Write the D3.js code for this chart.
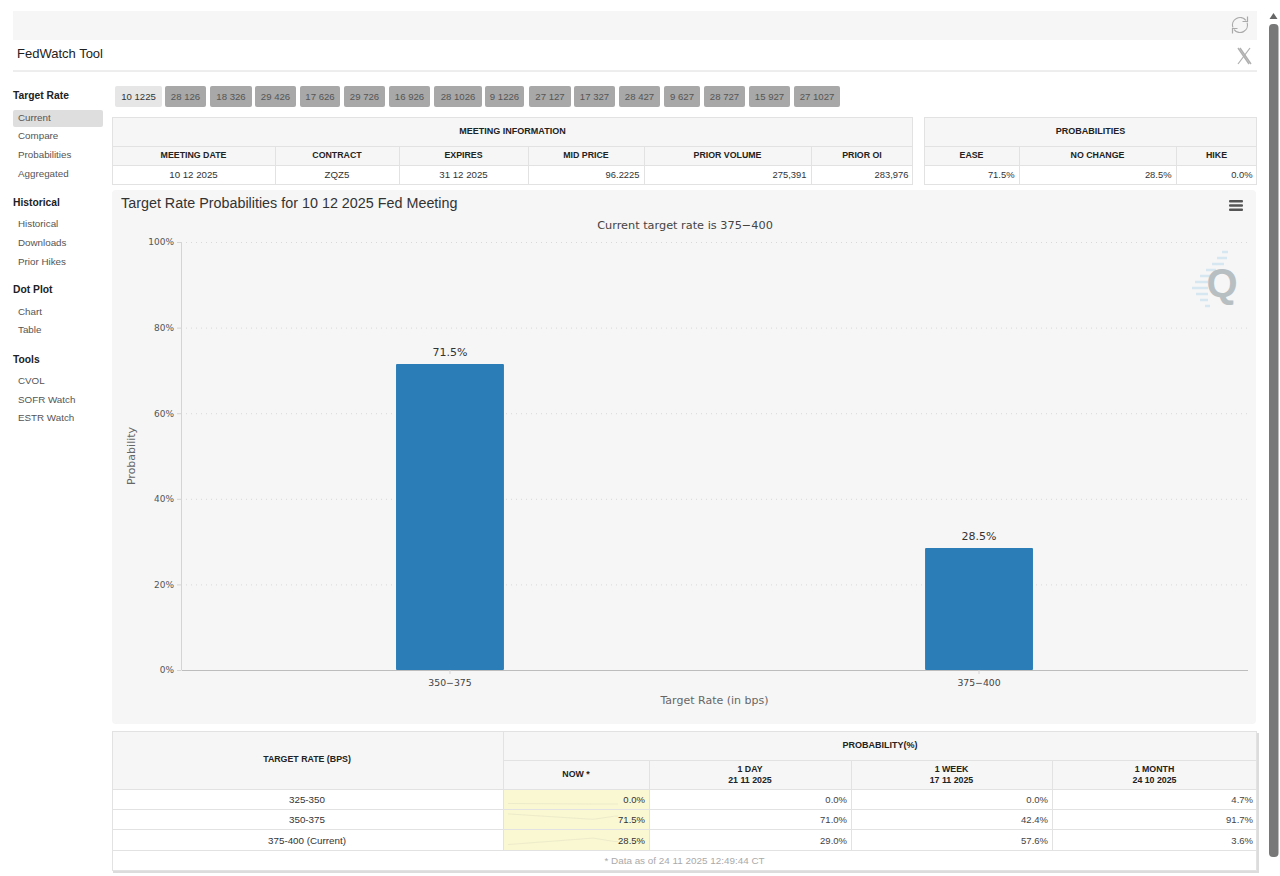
<!DOCTYPE html>
<html>
<head>
<meta charset="utf-8">
<title>FedWatch Tool</title>
<script src="https://cdn.jsdelivr.net/npm/d3@7"></script>
<style>
  html, body { margin: 0; padding: 0; background: #fff; overflow: hidden; }
  svg { display: block; }
  text { font-family: "Liberation Sans", Arial, sans-serif; }
  .hc text, text.hc { font-family: "DejaVu Sans", sans-serif; }
</style>
</head>
<body>
<div id="root"></div>
<script>
// ---- data
const meetings = ['10 1225','28 126','18 326','29 426','17 626','29 726','16 926','28 1026','9 1226','27 127','17 327','28 427','9 627','28 727','15 927','27 1027'];
const menuGroups = ['Target Rate','Historical','Dot Plot','Tools'];
const menuTargetRate = ['Current','Compare','Probabilities','Aggregated'];
const menuHistorical = ['Historical','Downloads','Prior Hikes'];
const menuDotPlot = ['Chart','Table'];
const menuTools = ['CVOL','SOFR Watch','ESTR Watch'];

const infoHead = ['MEETING DATE','CONTRACT','EXPIRES','MID PRICE','PRIOR VOLUME','PRIOR OI'];
const infoRow = ['10 12 2025','ZQZ5','31 12 2025','96.2225','275,391','283,976'];
const probHead = ['EASE','NO CHANGE','HIKE'];
const probRow = ['71.5%','28.5%','0.0%'];

const targetRates = ['350-375','375-400'];
const probabilities = [71.5, 28.5];
const yTicks = [0,20,40,60,80,100];

const histRates = ['325-350','350-375','375-400 (Current)'];
const histNow = [0.0, 71.5, 28.5];
const hist1Day = [0.0, 71.0, 29.0];
const hist1Week = [0.0, 42.4, 57.6];
const hist1Month = [4.7, 91.7, 3.6];
const histHead = [['NOW *'],['1 DAY','21 11 2025'],['1 WEEK','17 11 2025'],['1 MONTH','24 10 2025']];
const daysAgo = [31, 7, 1, 0];

// ---- layout
const W = 1280, H = 876;
const svg = d3.select('#root').append('svg').attr('width', W).attr('height', H);

const ink = '#333', soft = '#555', head = '#f6f6f6', rule = '#e2e2e2';

function txt(g, x, y, s, o) {
  o = o || {};
  return g.append('text').attr('x', x).attr('y', y).text(s)
    .attr('text-anchor', o.a || 'start')
    .attr('dominant-baseline', 'central')
    .attr('font-size', o.size || 9.5)
    .attr('font-weight', o.bold ? 700 : 400)
    .attr('fill', o.fill || ink);
}
function box(g, x0, y0, x1, y1, fill, stroke) {
  return g.append('rect').attr('x', x0).attr('y', y0)
    .attr('width', x1 - x0).attr('height', y1 - y0)
    .attr('fill', fill || 'none').attr('stroke', stroke || 'none');
}

// top bars
const topBar = svg.append('g');
box(topBar, 13, 11, 1257, 40, head);
txt(topBar, 17, 53.5, 'FedWatch Tool', {size: 13, fill: '#222'});
topBar.append('line').attr('x1', 13).attr('x2', 1257).attr('y1', 71).attr('y2', 71).attr('stroke', '#dcdcdc');

// refresh icon
const refresh = topBar.append('g').attr('transform', 'translate(1240,25)')
  .attr('fill', 'none').attr('stroke', '#aaa').attr('stroke-width', 1.2);
refresh.append('path').attr('d', d3.arc()({innerRadius: 7.5, outerRadius: 7.5, startAngle: -1.9, endAngle: 0.9}));
refresh.append('path').attr('d', d3.arc()({innerRadius: 7.5, outerRadius: 7.5, startAngle: 1.25, endAngle: 4.05}));
refresh.append('path').attr('d', 'M7.5,-8.5 L7.5,-3.5 L2.5,-3.5');
refresh.append('path').attr('d', 'M-7.5,8.5 L-7.5,3.5 L-2.5,3.5');
// X icon
const xIcon = topBar.append('g').attr('transform', 'translate(1244,56)').attr('fill', 'none').attr('stroke', '#b0b0b0');
xIcon.append('path').attr('d', 'M-6,-8 L5,8 M-4,-8 L7,8').attr('stroke-width', 1.4);
xIcon.append('path').attr('d', 'M6,-8 L-6,8').attr('stroke-width', 1.2);

// scrollbar
svg.append('path').attr('d', 'M1269.5,19 L1273.5,13 L1277.5,19 Z').attr('fill', '#666');
svg.append('rect').attr('x', 1269).attr('y', 24).attr('width', 9.5).attr('height', 833).attr('rx', 4).attr('fill', '#787878');

// side menu
const menu = svg.append('g');
box(menu, 13, 110, 103, 127, '#dedede').attr('rx', 2);
const menuLists = [menuTargetRate, menuHistorical, menuDotPlot, menuTools];
const menuHeadY = [95.5, 202.5, 289.5, 359.5];
const menuItemY = [[117.5,135.5,154.5,173.5],[223.5,242.5,261.5],[311.5,329.5],[380.5,399.5,417.5]];
menuGroups.forEach((g, i) => {
  txt(menu, 13, menuHeadY[i], g, {bold: true, fill: '#222', size: 10.3});
  menuLists[i].forEach((m, j) => txt(menu, 18, menuItemY[i][j], m, {fill: soft, size: 9.8}));
});

// meeting buttons
const btnEdges = [[115,162],[165,206],[210,252],[255,296],[300,340],[344,385],[389,430],[434,482],[485,524],[529,571],[574,615],[619,660],[664,700],[704,745],[749,790],[794,840]];
const btns = svg.append('g');
meetings.forEach((m, i) => {
  const [a, b] = btnEdges[i];
  box(btns, a, 86, b, 107, i === 0 ? '#e6e6e6' : '#a8a8a8').attr('rx', 2);
  txt(btns, (a + b) / 2, 96, m, {a: 'middle', size: 9.6, fill: i === 0 ? '#333' : '#555'});
});

// generic table with one title row, one head row, one value row
function infoTable(edges, title, heads, vals, alignVals) {
  const g = svg.append('g');
  const x0 = edges[0], x1 = edges[edges.length - 1];
  box(g, x0 + .5, 117.5, x1 - .5, 146, head);
  box(g, x0 + .5, 146, x1 - .5, 165, head);
  box(g, x0 + .5, 165, x1 - .5, 185, '#fff');
  box(g, x0 + .5, 117.5, x1 - .5, 184.5, null, rule);
  [146, 165].forEach(y => g.append('line').attr('x1', x0).attr('x2', x1).attr('y1', y + .5).attr('y2', y + .5).attr('stroke', rule));
  edges.slice(1, -1).forEach(x => g.append('line').attr('x1', x + .5).attr('x2', x + .5).attr('y1', 146).attr('y2', 185).attr('stroke', rule));
  txt(g, (x0 + x1) / 2, 130.5, title, {a: 'middle', bold: true, size: 9, fill: '#222'});
  heads.forEach((h, i) => txt(g, (edges[i] + edges[i + 1]) / 2, 155, h, {a: 'middle', bold: true, size: 8.8, fill: '#222'}));
  vals.forEach((v, i) => {
    if (alignVals[i] === 'm') txt(g, (edges[i] + edges[i + 1]) / 2, 174.5, v, {a: 'middle', size: 9.7});
    else txt(g, edges[i + 1] - 4.5, 174.5, v, {a: 'end', size: 9.4});
  });
}
infoTable([112,275,399,528,644,811,913], 'MEETING INFORMATION', infoHead, infoRow, ['m','m','m','e','e','e']);
infoTable([924,1019,1176,1257], 'PROBABILITIES', probHead, probRow, ['e','e','e']);

// chart panel
box(svg, 112, 190, 1256, 724, head).attr('rx', 4);
txt(svg, 121, 203, 'Target Rate Probabilities for 10 12 2025 Fed Meeting', {size: 14.35, fill: '#333'});
txt(svg, 685, 225, 'Current target rate is 375\u2212400', {a: 'middle', size: 11.3, fill: '#444'}).attr('class', 'hc');

// menu button
svg.append('g').selectAll('rect').data([0, 1, 2]).join('rect')
  .attr('x', 1229).attr('y', d => 200 + d * 4.3).attr('width', 14).attr('height', 2.4).attr('rx', 1).attr('fill', '#555');

// watermark
const wm = svg.append('g');
const wmDashes = [[1222,1228,252],[1217,1227,258],[1212,1224,264],[1206,1216,270],[1200,1212,276],[1195,1208,282],[1192,1208,288],[1196,1208,294],[1200,1208,300],[1205,1210,306]];
wmDashes.forEach(d => wm.append('line').attr('x1', d[0]).attr('x2', d[1]).attr('y1', d[2]).attr('y2', d[2])
  .attr('stroke', '#d6e7f1').attr('stroke-width', 2.5));
txt(wm, 1222, 283, 'Q', {a: 'middle', bold: true, size: 40, fill: '#b8bfc3'});

// plot
const plot = {left: 181, right: 1247, top: 242, bottom: 670};
const y = d3.scaleLinear().domain([0, 100]).range([plot.bottom, plot.top]);
const x = d3.scaleBand().domain(targetRates).range([plot.left + .5, plot.right + .5])
  .paddingInner(0.796).paddingOuter(0.4055);

// gridlines
svg.append('g').selectAll('line').data(yTicks.filter(d => d > 0)).join('line')
  .attr('x1', plot.left).attr('x2', plot.right)
  .attr('y1', d => y(d) + .5).attr('y2', d => y(d) + .5)
  .attr('stroke', '#d8d8d8').attr('stroke-dasharray', '1 4');

// bars
svg.append('g').selectAll('rect').data(targetRates).join('rect')
  .attr('x', d => x(d)).attr('width', x.bandwidth())
  .attr('y', (d, i) => y(probabilities[i]))
  .attr('height', (d, i) => y(0) - y(probabilities[i]))
  .attr('rx', 1).attr('fill', '#2b7db7');
svg.append('g').selectAll('text').data(targetRates).join('text')
  .attr('class', 'hc')
  .attr('x', d => x(d) + x.bandwidth() / 2)
  .attr('y', (d, i) => y(probabilities[i]) - 11.5)
  .attr('text-anchor', 'middle').attr('dominant-baseline', 'central')
  .attr('font-size', 11).attr('fill', '#333')
  .text((d, i) => probabilities[i].toFixed(1) + '%');

// axes
const axisL = svg.append('g').attr('class', 'hc').attr('transform', `translate(${plot.left},0)`)
  .call(d3.axisLeft(y).tickValues(yTicks).tickFormat(d => d + '%').tickSize(4).tickSizeOuter(0).tickPadding(3));
axisL.select('.domain').attr('stroke', '#d4d4d4');
axisL.selectAll('line').attr('stroke', '#d4d4d4');
axisL.selectAll('text').attr('font-size', 9).attr('fill', '#555').attr('font-family', '"DejaVu Sans", sans-serif');

const axisB = svg.append('g').attr('class', 'hc').attr('transform', `translate(0,${plot.bottom})`)
  .call(d3.axisBottom(x).tickFormat(d => d.replace('-', '\u2212')).tickSize(4).tickSizeOuter(0).tickPadding(5));
axisB.select('.domain').attr('stroke', '#bdbdbd');
axisB.selectAll('line').attr('stroke', '#d4d4d4');
axisB.selectAll('text').attr('font-size', 9.3).attr('fill', '#444').attr('font-family', '"DejaVu Sans", sans-serif');

txt(svg, 714.5, 700, 'Target Rate (in bps)', {a: 'middle', size: 11, fill: '#666'}).attr('class', 'hc');
txt(svg, 0, 0, 'Probability', {a: 'middle', size: 11, fill: '#666'})
  .attr('class', 'hc').attr('transform', 'translate(131,456) rotate(-90)');

// history table
const hEdges = [112,503,649,851,1052,1257];
const hRows = [789,809,829,850];
const t = svg.append('g');
box(t, 113, 733, 1259, 873, '#dcdcdc');
box(t, 112, 731, 1257, 871, '#fff');
box(t, 112, 731, 1257, 789, head);
box(t, 503, 789, 649, 850, '#faf8d2');
box(t, 112.5, 731.5, 1256.5, 870.5, null, rule);
t.append('line').attr('x1', 503).attr('x2', 1257).attr('y1', 760.5).attr('y2', 760.5).attr('stroke', rule);
hRows.forEach(r => t.append('line').attr('x1', 112).attr('x2', 1257).attr('y1', r + .5).attr('y2', r + .5).attr('stroke', rule));
t.append('line').attr('x1', 503.5).attr('x2', 503.5).attr('y1', 731).attr('y2', 850).attr('stroke', rule);
hEdges.slice(2, -1).forEach(e => t.append('line').attr('x1', e + .5).attr('x2', e + .5).attr('y1', 760).attr('y2', 850).attr('stroke', rule));

txt(t, 307, 758.5, 'TARGET RATE (BPS)', {a: 'middle', bold: true, size: 8.8, fill: '#222'});
txt(t, 880, 745, 'PROBABILITY(%)', {a: 'middle', bold: true, size: 9, fill: '#222'});
histHead.forEach((h, i) => {
  const cx = (hEdges[i + 1] + hEdges[i + 2]) / 2;
  if (h.length === 1) txt(t, cx, 774, h[0], {a: 'middle', bold: true, size: 8.8, fill: '#222'});
  else h.forEach((s, j) => txt(t, cx, 769 + j * 11, s, {a: 'middle', bold: true, size: 8.8, fill: '#222'}));
});

const histCols = [histNow, hist1Day, hist1Week, hist1Month];
histRates.forEach((r, i) => {
  const cy = (hRows[i] + hRows[i + 1]) / 2 + .5;
  // little trend line behind the NOW value
  const sx = d3.scaleLinear().domain([31, 0]).range([508, 618]);
  const sy = d3.scaleLinear().domain([0, 100]).range([hRows[i + 1] - 5, hRows[i] + 4]);
  const vals = [hist1Month[i], hist1Week[i], hist1Day[i], histNow[i]];
  t.append('path').attr('fill', 'none').attr('stroke', '#e9e7c8').attr('stroke-width', .8)
    .attr('d', d3.line().x((d, k) => sx(daysAgo[k])).y(d => sy(d))(vals));
  txt(t, 307, cy, r, {a: 'middle', size: 9.8});
  histCols.forEach((c, j) => txt(t, hEdges[j + 2] - 4, cy, c[i].toFixed(1) + '%', {a: 'end', size: 9.5, fill: j === 0 ? '#333' : '#444'}));
});
txt(t, 684.5, 860, '* Data as of 24 11 2025 12:49:44 CT', {a: 'middle', size: 9.9, fill: '#aaa'});
</script>
</body>
</html>
